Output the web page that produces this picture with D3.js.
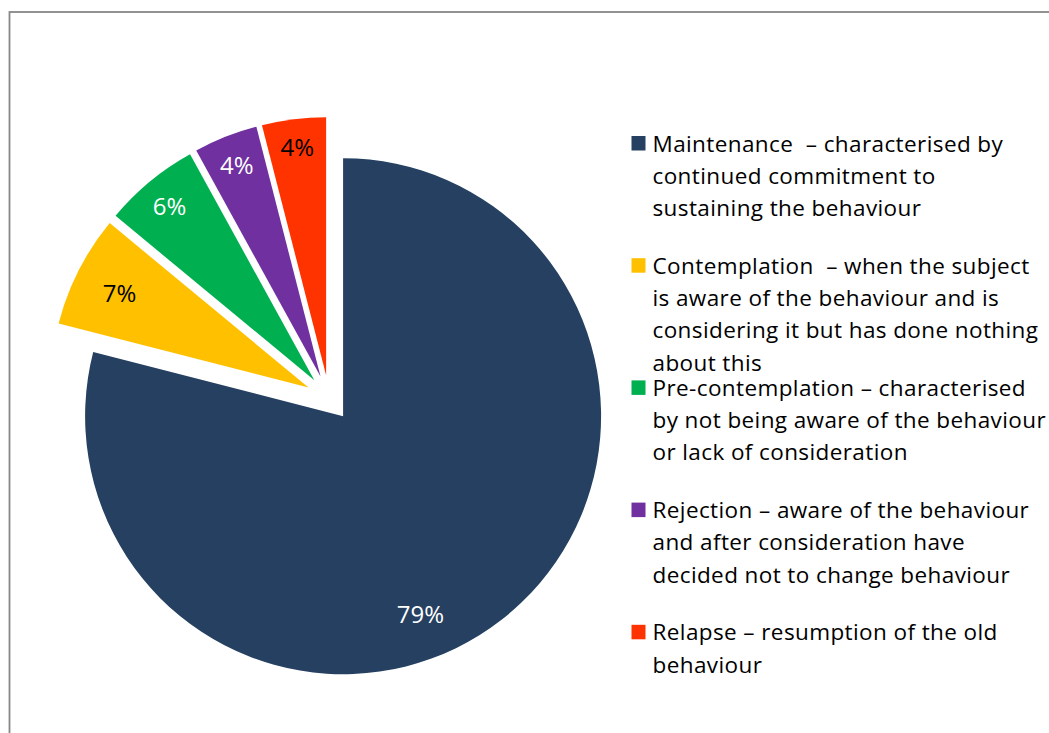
<!DOCTYPE html>
<html>
<head>
<meta charset="utf-8">
<script src="https://cdn.jsdelivr.net/npm/d3@7"></script>
<style>
  html, body { margin: 0; padding: 0; background: #fff; }
  svg { display: block; }
  text { white-space: pre; }
</style>
</head>
<body>
<svg id="chart" width="1049" height="733"></svg>
<script>
// Stages of behaviour change – share of respondents
const stages = ["Maintenance", "Contemplation", "Pre-contemplation", "Rejection", "Relapse"];
const shares = [79, 7, 6, 4, 4];
const stageColors = ["#254061", "#FFC000", "#00B050", "#7030A0", "#FF3300"];
const labelColors = ["#ffffff", "#000000", "#ffffff", "#ffffff", "#000000"];
const legendLines = [
  ["Maintenance  \u2013 characterised by", "continued commitment to", "sustaining the behaviour"],
  ["Contemplation  \u2013 when the subject", "is aware of the behaviour and is", "considering it but has done nothing", "about this"],
  ["Pre-contemplation \u2013 characterised", "by not being aware of the behaviour", "or lack of consideration"],
  ["Rejection \u2013 aware of the behaviour", "and after consideration have", "decided not to change behaviour"],
  ["Relapse \u2013 resumption of the old", "behaviour"]
];

// Layout
const W = 1049, H = 733;
const cx = 329, cy = 398, radius = 258, explode = 23;
// where each value label sits: fraction of the slice's sweep, fraction of the radius
const labelSweep = [0.558, 0.48, 0.49, 0.5, 0.5];
const labelRadius = [0.825, 0.818, 0.877, 0.881, 0.891];
const fontFamily = "'Open Sans', Lato, sans-serif";

const svg = d3.select("#chart");

// chart area frame
svg.append("rect")
  .attr("x", 9.5).attr("y", 12)
  .attr("width", W + 50).attr("height", H + 50)
  .attr("fill", "none")
  .attr("stroke", "#878787")
  .attr("stroke-width", 1.8);

const pie = d3.pie().sort(null).value(d => d)(shares);
const arc = d3.arc().innerRadius(0).outerRadius(radius);

const g = svg.append("g").attr("transform", `translate(${cx},${cy})`);

// every slice is pulled out along its own bisector
function offset(d) {
  const mid = (d.startAngle + d.endAngle) / 2;
  return [Math.sin(mid) * explode, -Math.cos(mid) * explode];
}

const slices = g.selectAll("g.slice")
  .data(pie)
  .join("g")
  .attr("class", "slice")
  .attr("transform", d => { const o = offset(d); return `translate(${o[0]},${o[1]})`; });

slices.append("path")
  .attr("d", arc)
  .attr("fill", (d, i) => stageColors[i]);

slices.append("text")
  .attr("transform", (d, i) => {
    const a = d.startAngle + (d.endAngle - d.startAngle) * labelSweep[i];
    const r = radius * labelRadius[i];
    return `translate(${Math.sin(a) * r},${-Math.cos(a) * r})`;
  })
  .attr("text-anchor", "middle")
  .attr("dy", "0.36em")
  .attr("font-family", fontFamily)
  .attr("font-size", 24)
  .attr("fill", (d, i) => labelColors[i])
  .text(d => d.data + "%");

// legend
const legendY = d3.scaleBand()
  .domain(stages)
  .range([136, 136 + 122.2 * stages.length])
  .paddingInner(0).paddingOuter(0);

const legend = svg.append("g")
  .selectAll("g")
  .data(stages)
  .join("g")
  .attr("transform", d => `translate(631.5,${legendY(d)})`);

legend.append("rect")
  .attr("x", 0).attr("y", 0)
  .attr("width", 14).attr("height", 14.5)
  .attr("fill", (d, i) => stageColors[i]);

legend.append("text")
  .attr("font-family", fontFamily)
  .attr("font-size", 22.5)
  .attr("letter-spacing", 0.4)
  .attr("fill", "#000")
  .selectAll("tspan")
  .data((d, i) => legendLines[i])
  .join("tspan")
  .attr("x", 21)
  .attr("y", (d, j) => 15.5 + j * 32.3)
  .text(d => d);
</script>
</body>
</html>
